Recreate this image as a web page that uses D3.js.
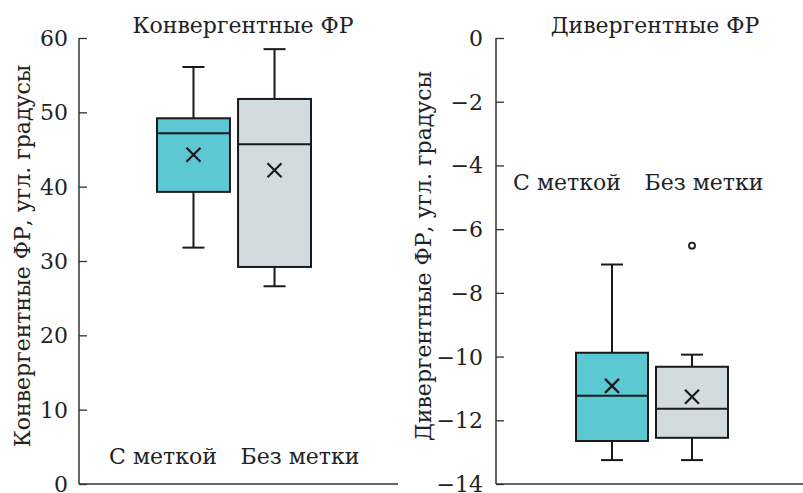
<!DOCTYPE html>
<html>
<head>
<meta charset="utf-8">
<script src="https://cdn.jsdelivr.net/npm/d3@7"></script>
<style>
  body { margin: 0; background: #fff; }
</style>
</head>
<body>
<script>
// Box statistics
const groups = ["С меткой", "Без метки"];
const colors = ["#5bc8d3", "#d2dbe0"];

const convTitle = "Конвергентные ФР";
const convLabel = "Конвергентные ФР, угл. градусы";
const convTicks = [0, 10, 20, 30, 40, 50, 60];
const convMin = [31.8, 26.6];
const convQ1 = [39.3, 29.2];
const convMedian = [47.2, 45.7];
const convQ3 = [49.2, 51.8];
const convMax = [56.1, 58.5];
const convMean = [44.3, 42.2];
const convOutliers = [[], []];

const divTitle = "Дивергентные ФР";
const divLabel = "Дивергентные ФР, угл. градусы";
const divTicks = [-14, -12, -10, -8, -6, -4, -2, 0];
const divMin = [-13.25, -13.25];
const divQ1 = [-12.65, -12.55];
const divMedian = [-11.23, -11.64];
const divQ3 = [-9.88, -10.32];
const divMax = [-7.11, -9.94];
const divMean = [-10.92, -11.26];
const divOutliers = [[], [-6.52]];

const width = 803, height = 493;
const FONT = "'DejaVu Serif', serif";
const FS = 22;

const svg = d3.select("body").append("svg")
  .attr("width", width)
  .attr("height", height);

function styleText(sel) {
  sel.attr("font-family", FONT).attr("font-size", FS).attr("fill", "#222");
}

function panel(opts) {
  const y = d3.scaleLinear().domain(opts.domain).range([484, 38]);
  const x = d3.scaleBand().domain(groups).range(opts.boxRange).paddingInner(0.1).paddingOuter(0);
  const g = svg.append("g");

  // y axis, ticks pointing inward
  const axis = d3.axisLeft(y).tickValues(opts.ticks).tickSize(-8).tickPadding(opts.pad)
    .tickFormat(d => d < 0 ? "\u2212" + Math.abs(d) : d);
  const ag = g.append("g").attr("transform", `translate(${opts.axisX},0)`).call(axis);
  ag.attr("font-family", FONT).attr("font-size", FS);
  ag.select(".domain").remove();
  ag.selectAll(".tick line").attr("stroke", "#333").attr("stroke-width", 1.3);
  ag.selectAll(".tick text").call(styleText).attr("dy", "0.34em");

  // axis lines
  g.append("line").attr("x1", opts.axisX).attr("x2", opts.axisX)
    .attr("y1", y(opts.domain[1])).attr("y2", y(opts.domain[0]))
    .attr("stroke", "#333").attr("stroke-width", 1.5);
  g.append("line").attr("x1", opts.axisX).attr("x2", opts.axisEnd)
    .attr("y1", y(opts.domain[0])).attr("y2", y(opts.domain[0]))
    .attr("stroke", "#333").attr("stroke-width", 1.5);

  // boxes
  groups.forEach((name, i) => {
    const x0 = x(name), bw = x.bandwidth(), cx = x0 + bw / 2;
    const bg = g.append("g").attr("stroke", "#1a1a1a").attr("stroke-width", 2);
    bg.append("line").attr("x1", cx).attr("x2", cx)
      .attr("y1", y(opts.max[i])).attr("y2", y(opts.q3[i]));
    bg.append("line").attr("x1", cx).attr("x2", cx)
      .attr("y1", y(opts.q1[i])).attr("y2", y(opts.min[i]));
    [opts.max[i], opts.min[i]].forEach(v => {
      bg.append("line").attr("x1", cx - 11).attr("x2", cx + 11)
        .attr("y1", y(v)).attr("y2", y(v));
    });
    bg.append("rect").attr("x", x0).attr("width", bw)
      .attr("y", y(opts.q3[i])).attr("height", y(opts.q1[i]) - y(opts.q3[i]))
      .attr("fill", colors[i]);
    bg.append("line").attr("x1", x0).attr("x2", x0 + bw)
      .attr("y1", y(opts.median[i])).attr("y2", y(opts.median[i]));
    const my = y(opts.mean[i]), s = 7;
    bg.append("path").attr("d", `M${cx - s},${my - s}L${cx + s},${my + s}M${cx - s},${my + s}L${cx + s},${my - s}`)
      .attr("stroke-width", 2.2);
    opts.outliers[i].forEach(v => {
      bg.append("circle").attr("cx", cx).attr("cy", y(v)).attr("r", 3)
        .attr("fill", "#fff").attr("stroke-width", 1.8);
    });
  });

  // texts
  g.append("text").attr("x", opts.titleX).attr("y", 33).attr("text-anchor", "middle")
    .call(styleText).text(opts.title);
  g.append("text").attr("transform", `translate(${opts.labelX},256) rotate(-90)`)
    .attr("text-anchor", "middle").call(styleText).text(opts.label);
  opts.catX.forEach((cx, i) => {
    g.append("text").attr("x", cx).attr("y", opts.catY).attr("text-anchor", "middle")
      .call(styleText).text(groups[i]);
  });
}

panel({
  domain: [0, 60], ticks: convTicks, axisX: 79, axisEnd: 398, boxRange: [157, 311], pad: 11,
  min: convMin, q1: convQ1, median: convMedian, q3: convQ3, max: convMax,
  mean: convMean, outliers: convOutliers,
  title: convTitle, titleX: 243, label: convLabel, labelX: 30,
  catX: [163, 300], catY: 464
});

panel({
  domain: [-14, 0], ticks: divTicks, axisX: 496, axisEnd: 803, boxRange: [576, 728], pad: 13,
  min: divMin, q1: divQ1, median: divMedian, q3: divQ3, max: divMax,
  mean: divMean, outliers: divOutliers,
  title: divTitle, titleX: 655, label: divLabel, labelX: 431,
  catX: [567, 704], catY: 190
});
</script>
</body>
</html>
